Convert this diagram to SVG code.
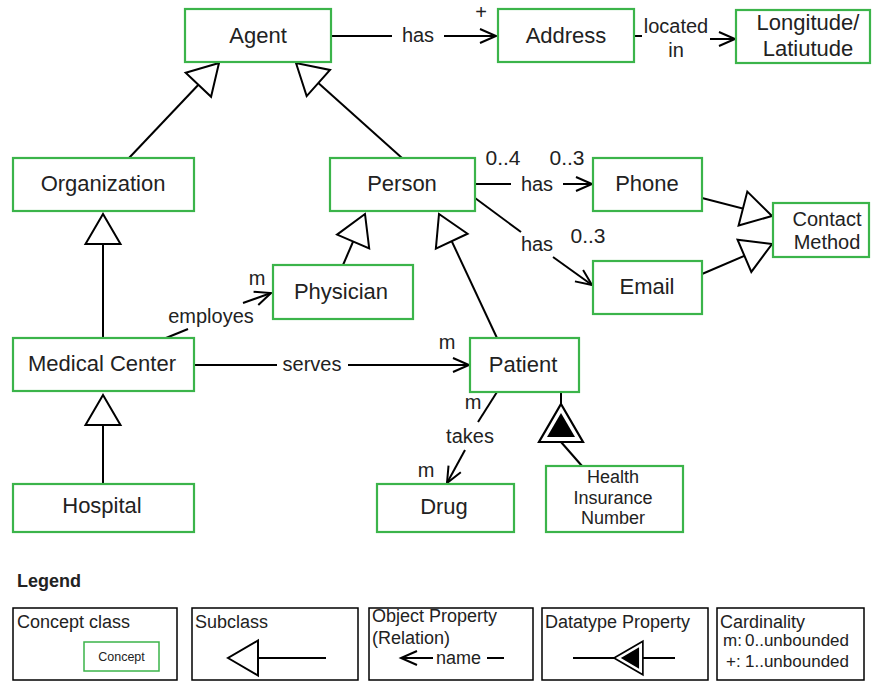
<svg xmlns="http://www.w3.org/2000/svg" width="872" height="682" viewBox="0 0 872 682">
  <style>
    text { font-family: "Liberation Sans", Arial, Helvetica, sans-serif; fill: #222; }
    .node rect { fill: #fff; stroke: #3bb44a; stroke-width: 2.2; }
    .n { font-size: 22px; text-anchor: middle; }
    .n20 { font-size: 20px; text-anchor: middle; }
    .n18 { font-size: 18px; text-anchor: middle; }
    .lbl { font-size: 20px; text-anchor: middle; }
    .card { font-size: 21px; text-anchor: middle; }
    .edge { fill: none; stroke: #000; stroke-width: 2; }
    .sub { marker-end: url(#sub); }
    .rel { marker-end: url(#arr); }
    .leg rect { fill: #fff; stroke: #000; stroke-width: 1.5; }
    .lt { font-size: 18px; }
    .ls { font-size: 17px; }
  </style>
  <defs>
    <!-- hollow triangle: subclass -->
    <marker id="sub" markerUnits="userSpaceOnUse" orient="auto" overflow="visible" markerWidth="40" markerHeight="40">
      <path d="M0,0 L-30,-17.5 L-30,17.5 Z" fill="#fff" stroke="#000" stroke-width="2"/>
    </marker>
    <!-- open arrowhead: object property -->
    <marker id="arr" markerUnits="userSpaceOnUse" orient="auto" overflow="visible" markerWidth="40" markerHeight="40">
      <path d="M-16,-7 L0,0 L-16,7" fill="none" stroke="#000" stroke-width="2"/>
    </marker>
    <!-- datatype property symbol, tip at origin pointing to -x -->
    <g id="dtype">
      <path d="M0,0 L38,-22 L38,22 Z" fill="#fff" stroke="#000" stroke-width="2.2"/>
      <path d="M9,0 L33,-14 L33,14 Z" fill="#000"/>
    </g>
  </defs>

  <!-- connectors -->
  <g id="connectors">
    <!-- subclass links -->
    <line class="edge sub" x1="129" y1="158" x2="219" y2="63"/>
    <line class="edge sub" x1="402" y1="158" x2="296" y2="63"/>
    <line class="edge sub" x1="343" y1="265" x2="365" y2="214"/>
    <line class="edge sub" x1="497" y1="338" x2="439" y2="214"/>
    <line class="edge sub" x1="103" y1="338" x2="103" y2="214"/>
    <line class="edge sub" x1="103" y1="484" x2="103" y2="395"/>
    <line class="edge sub" x1="702" y1="198" x2="772" y2="216"/>
    <line class="edge sub" x1="702" y1="274" x2="772" y2="244"/>

    <!-- Agent has Address -->
    <line class="edge" x1="331" y1="36" x2="392" y2="36"/>
    <text class="lbl" x="418" y="42">has</text>
    <line class="edge rel" x1="444" y1="36" x2="496" y2="36"/>
    <text class="lbl" x="481" y="19">+</text>

    <!-- Address located in Longitude/Latitude -->
    <line class="edge" x1="634" y1="36" x2="642" y2="36"/>
    <text class="lbl" x="676" y="33">located</text>
    <text class="lbl" x="676" y="57">in</text>
    <line class="edge rel" x1="710" y1="39" x2="735" y2="39"/>

    <!-- Person has Phone -->
    <line class="edge" x1="475" y1="184" x2="511" y2="184"/>
    <text class="lbl" x="537" y="191">has</text>
    <line class="edge rel" x1="563" y1="184" x2="592" y2="184"/>
    <text class="card" x="503" y="165">0..4</text>
    <text class="card" x="567" y="165">0..3</text>

    <!-- Person has Email -->
    <line class="edge" x1="475" y1="198" x2="521" y2="232"/>
    <text class="lbl" x="537" y="251">has</text>
    <line class="edge rel" x1="553" y1="257" x2="592" y2="285"/>
    <text class="card" x="588" y="243">0..3</text>

    <!-- Medical Center employes Physician -->
    <line class="edge" x1="166" y1="338" x2="188" y2="329"/>
    <text class="lbl" x="211" y="323">employes</text>
    <line class="edge rel" x1="243" y1="303" x2="271" y2="293"/>
    <text class="lbl" x="257" y="285">m</text>

    <!-- Medical Center serves Patient -->
    <line class="edge" x1="194" y1="365" x2="277" y2="365"/>
    <text class="lbl" x="312" y="371">serves</text>
    <line class="edge rel" x1="348" y1="365" x2="469" y2="365"/>
    <text class="lbl" x="447" y="349">m</text>

    <!-- Patient takes Drug -->
    <line class="edge" x1="497" y1="392" x2="478" y2="422"/>
    <text class="lbl" x="473" y="409">m</text>
    <text class="lbl" x="470" y="443">takes</text>
    <line class="edge rel" x1="465" y1="450" x2="447" y2="483"/>
    <text class="lbl" x="426" y="477">m</text>

    <!-- Patient datatype Health Insurance Number -->
    <line class="edge" x1="561" y1="392" x2="561" y2="404"/>
    <line class="edge" x1="561" y1="442" x2="582" y2="466"/>
    <use href="#dtype" transform="translate(561,404) rotate(90)"/>
  </g>

  <!-- nodes -->
  <g id="agent" class="node"><rect x="185" y="9" width="146" height="53"/><text class="n" x="258" y="43">Agent</text></g>
  <g id="address" class="node"><rect x="498" y="9" width="136" height="53"/><text class="n" x="566" y="43">Address</text></g>
  <g id="longlat" class="node"><rect x="736" y="10" width="134" height="53"/><text class="n" x="808" y="30">Longitude/</text><text class="n" x="808" y="56">Latiutude</text></g>
  <g id="organization" class="node"><rect x="13" y="158" width="181" height="53"/><text class="n" x="103" y="191">Organization</text></g>
  <g id="person" class="node"><rect x="330" y="158" width="145" height="53"/><text class="n" x="402" y="191">Person</text></g>
  <g id="phone" class="node"><rect x="593" y="158" width="109" height="53"/><text class="n" x="647" y="191">Phone</text></g>
  <g id="email" class="node"><rect x="593" y="261" width="109" height="53"/><text class="n" x="647" y="294">Email</text></g>
  <g id="contact" class="node"><rect x="773" y="203" width="96" height="54"/><text class="n20" x="827" y="226">Contact</text><text class="n20" x="827" y="249">Method</text></g>
  <g id="physician" class="node"><rect x="273" y="265" width="140" height="54"/><text class="n" x="341" y="299">Physician</text></g>
  <g id="medical-center" class="node"><rect x="13" y="338" width="181" height="53"/><text class="n" x="102" y="371">Medical Center</text></g>
  <g id="patient" class="node"><rect x="470" y="338" width="109" height="54"/><text class="n" x="523" y="372">Patient</text></g>
  <g id="hospital" class="node"><rect x="13" y="484" width="181" height="48"/><text class="n" x="102" y="513">Hospital</text></g>
  <g id="drug" class="node"><rect x="377" y="484" width="137" height="48"/><text class="n" x="444" y="514">Drug</text></g>
  <g id="hin" class="node"><rect x="546" y="466" width="137" height="66"/><text class="n18" x="613" y="483">Health</text><text class="n18" x="613" y="504">Insurance</text><text class="n18" x="613" y="524">Number</text></g>

  <!-- legend -->
  <g id="legend" class="leg">
    <text x="17" y="587" style="font-size:18px;font-weight:bold">Legend</text>

    <rect x="13" y="608" width="164" height="72"/>
    <text class="lt" x="17" y="628">Concept class</text>
    <rect x="84" y="642" width="75" height="29" style="stroke:#3bb44a"/>
    <text x="121.5" y="661" style="font-size:12.5px;text-anchor:middle">Concept</text>

    <rect x="192" y="608" width="166" height="72"/>
    <text class="lt" x="195" y="628">Subclass</text>
    <line class="edge sub" x1="326" y1="658" x2="228" y2="658"/>

    <rect x="369" y="608" width="164" height="72"/>
    <text class="lt" x="372" y="622">Object Property</text>
    <text class="lt" x="372" y="644">(Relation)</text>
    <line class="edge rel" x1="433" y1="658" x2="401" y2="658"/>
    <text class="lt" x="436" y="664">name</text>
    <line class="edge" x1="487" y1="658" x2="504" y2="658"/>

    <rect x="542" y="608" width="166" height="72"/>
    <text class="lt" x="545" y="628">Datatype Property</text>
    <line class="edge" x1="573" y1="658" x2="675" y2="658"/>
    <use href="#dtype" transform="translate(614,658) scale(0.76)"/>

    <rect x="717" y="608" width="147" height="72"/>
    <text class="lt" x="720" y="628">Cardinality</text>
    <text class="ls" x="723" y="646">m:</text>
    <text class="ls" x="745" y="646">0..unbounded</text>
    <text class="ls" x="726" y="667">+:</text>
    <text class="ls" x="745" y="667">1..unbounded</text>
  </g>
</svg>
